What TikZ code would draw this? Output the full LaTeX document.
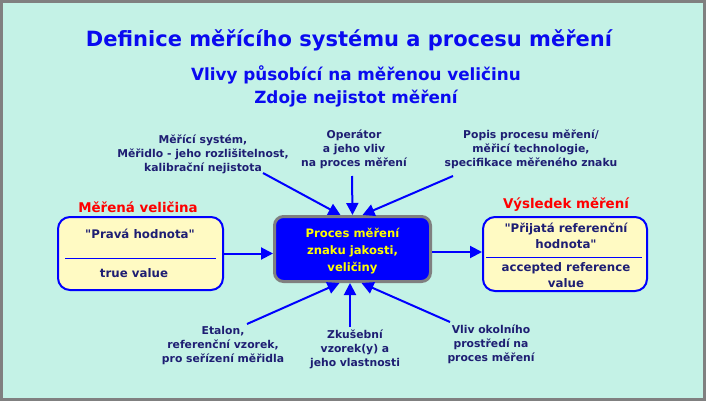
\documentclass[tikz,border=0pt]{standalone}
\usepackage{fontspec}
\setmainfont{DejaVu Sans}
\usetikzlibrary{arrows.meta}
\definecolor{bgmint}{RGB}{196,242,230}
\definecolor{framegray}{RGB}{128,128,128}
\definecolor{titleblue}{RGB}{10,10,240}
\definecolor{navy}{RGB}{30,30,115}
\definecolor{boxyellow}{RGB}{255,250,195}
\definecolor{procblue}{RGB}{0,0,255}
\definecolor{textyellow}{RGB}{255,255,0}
\begin{document}
\begin{tikzpicture}[x=1pt,y=-1pt,
  lbl/.style={font=\bfseries\fontsize{10.8}{14}\selectfont, text=navy, align=center, inner sep=0pt},
  boxtxt/.style={font=\bfseries\fontsize{11.8}{16}\selectfont, text=navy, align=center, inner sep=0pt},
  head/.style={font=\bfseries\fontsize{13.4}{15}\selectfont, text=red, inner sep=0pt},
  valbox/.style={draw=procblue, fill=boxyellow, line width=2pt, rounded corners=12pt},
  arr/.style={draw=procblue, line width=2pt, -{Triangle[length=12pt,width=12pt]}}]

\useasboundingbox (0,0) rectangle (706,401);
\filldraw[fill=bgmint, draw=framegray, line width=3pt] (1.5,1.5) rectangle (704.5,399.5);

\node[font=\bfseries\fontsize{21}{24}\selectfont, text=titleblue] (title) at (349,40) {Definice měřícího systému a procesu měření};
\node[font=\bfseries\fontsize{16.8}{23}\selectfont, text=titleblue, align=center] (sub) at (356,86)
  {Vlivy působící na měřenou veličinu\\ Zdoje nejistot měření};

\node[draw=framegray, fill=procblue, line width=3pt, rounded corners=9pt,
  minimum width=156pt, minimum height=65pt] (proc) at (352.5,249) {};
\node[font=\bfseries\fontsize{11.6}{17}\selectfont, text=textyellow, align=center] (proct) at (352.5,251)
  {Proces měření\\ znaku jakosti,\\ veličiny};

\node[valbox, minimum width=165pt, minimum height=73pt] (mv) at (140.5,253.5) {};
\node[head] (mvh) at (138,207) {Měřená veličina};
\node[boxtxt] (mvt) at (140,234) {\textquotedbl Pravá hodnota\textquotedbl};
\node[boxtxt] (mvv) at (134,273) {true value};
\draw[procblue, line width=1pt] (65,258) -- (216,258);

\node[valbox, minimum width=164pt, minimum height=74pt] (vm) at (565,254) {};
\node[head] (vmh) at (566,205) {Výsledek měření};
\node[boxtxt] (vmt) at (566,236) {\textquotedbl Přijatá referenční\\ hodnota\textquotedbl};
\node[boxtxt] (vmv) at (566,275) {accepted reference\\ value};
\draw[procblue, line width=1pt] (486,257) -- (642,257);

\node[lbl] (ms) at (203,154) {Měřící systém,\\ Měřidlo - jeho rozlišitelnost,\\ kalibrační nejistota};
\node[lbl] (op) at (354,149) {Operátor\\ a jeho vliv\\ na proces měření};
\node[lbl] (pp) at (531,149) {Popis procesu měření/\\ měřicí technologie,\\ specifikace měřeného znaku};
\node[lbl] (et) at (223,346) {Etalon,\\ referenční vzorek,\\ pro seřízení měřidla};
\node[lbl] (zk) at (355,349) {Zkušební\\ vzorek(y) a\\ jeho vlastnosti};
\node[lbl] (ok) at (491,344) {Vliv okolního\\ prostředí na\\ proces měření};

\coordinate (msa) at (263,173);
\coordinate (opa) at (352,176);
\coordinate (ppa) at (453,176);
\coordinate (eta) at (247,324);
\coordinate (zka) at (350,327);
\coordinate (oka) at (450,322);

\draw[arr] (mv.east) -- (mv.east -| proc.west);
\draw[arr] ([yshift=-3pt]proc.east) -- ([yshift=-3pt]proc.east -| vm.west);

\draw[arr] (msa) -- ([xshift=-12pt]proc.north);
\draw[arr] (opa) -- (proc.north);
\draw[arr] (ppa) -- ([xshift=10pt]proc.north);
\draw[arr] (eta) -- ([xshift=-13pt]proc.south);
\draw[arr] (zka) -- (zka |- proc.south);
\draw[arr] (oka) -- ([xshift=9pt]proc.south);

\end{tikzpicture}
\end{document}
